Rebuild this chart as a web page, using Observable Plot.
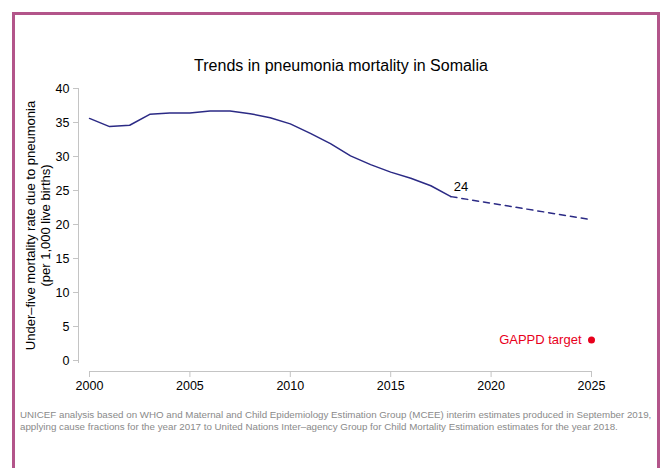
<!DOCTYPE html>
<html>
<head>
<meta charset="utf-8">
<script src="https://cdn.jsdelivr.net/npm/d3@7"></script>
<script src="https://cdn.jsdelivr.net/npm/@observablehq/plot@0.6"></script>
<style>
  html, body { margin: 0; padding: 0; background: #fff; }
  #wrap { position: relative; width: 664px; height: 468px; overflow: hidden; font-family: "Liberation Sans", Arial, Helvetica, sans-serif; }
  #frame { position: absolute; left: 12px; top: 12px; width: 642px; height: 480px; border: 3px solid #b3558a; box-sizing: content-box; }
  #title { position: absolute; left: 0; top: 57px; width: 682px; text-align: center; font-size: 16px; line-height: 18px; color: #000; }
  #chart { position: absolute; left: 0; top: 0; }
  #caption { position: absolute; left: 20px; top: 409px; font-size: 9.75px; line-height: 12px; color: #8a8a8a; white-space: nowrap; }
</style>
</head>
<body>
<div id="wrap">
  <div id="frame"></div>
  <div id="chart"></div>
  <div id="title">Trends in pneumonia mortality in Somalia</div>
  <div id="caption">UNICEF analysis based on WHO and Maternal and Child Epidemiology Estimation Group (MCEE) interim estimates produced in September 2019,<br>applying cause fractions for the year 2017 to United Nations Inter–agency Group for Child Mortality Estimation estimates for the year 2018.</div>
</div>
<script>
const years = [2000, 2001, 2002, 2003, 2004, 2005, 2006, 2007, 2008, 2009, 2010, 2011, 2012, 2013, 2014, 2015, 2016, 2017, 2018];
const rates = [35.6, 34.4, 34.6, 36.2, 36.4, 36.4, 36.7, 36.7, 36.3, 35.7, 34.8, 33.4, 31.9, 30.1, 28.8, 27.7, 26.8, 25.7, 24.1];
const projYears = [2018, 2025];
const projRates = [24.1, 20.7];
const targetYear = 2025;
const targetRate = 3;
const targetLabel = "GAPPD target";
const lastLabel = "24";
const xTicks = [2000, 2005, 2010, 2015, 2020, 2025];
const yTicks = [0, 5, 10, 15, 20, 25, 30, 35, 40];
const yLabel = "Under–five mortality rate due to pneumonia\n(per 1,000 live births)";

const observed = years.map((year, i) => ({year, value: rates[i]}));
const projection = projYears.map((year, i) => ({year, value: projRates[i]}));
const target = [{year: targetYear, value: targetRate}];

const lineColor = "#2b2a85";
const axisGray = "#c4c4c4";

const chart = Plot.plot({
  width: 664,
  height: 400,
  marginLeft: 78,
  marginTop: 88,
  marginBottom: 38,
  marginRight: 73,
  style: {fontFamily: '"Liberation Sans", Arial, Helvetica, sans-serif', background: "transparent", color: "#000"},
  x: {domain: [2000, 2025], range: [89, 591]},
  y: {domain: [0, 40], range: [360, 88]},
  marks: [
    Plot.frame({anchor: "left", stroke: axisGray}),
    Plot.axisY({ticks: yTicks, tickSize: 5, tickPadding: 4, fontSize: 12.5, stroke: axisGray, fill: "#000", label: null}),
    Plot.ruleY([0], {x1: 2000, x2: 2025, dy: 11, stroke: axisGray}),
    Plot.axisX({anchor: "bottom", ticks: xTicks, tickFormat: d => String(d), tickSize: 6, tickPadding: 4, dy: 9, fontSize: 12.5, stroke: axisGray, fill: "#000", label: null}),
    Plot.text([yLabel], {frameAnchor: "left", dx: -41, rotate: -90, fontSize: 13, lineHeight: 1.15, lineAnchor: "middle", textAnchor: "middle", fill: "#000"}),
    Plot.line(observed, {x: "year", y: "value", stroke: lineColor, strokeWidth: 1.5}),
    Plot.line(projection, {x: "year", y: "value", stroke: lineColor, strokeWidth: 1.5, strokeDasharray: "6,5"}),
    Plot.text([observed[observed.length - 1]], {x: "year", y: "value", text: () => lastLabel, dx: 10, dy: -10, fontSize: 13, fill: "#000"}),
    Plot.dot(target, {x: "year", y: "value", r: 3.5, fill: "#e8001c", stroke: "none"}),
    Plot.text(target, {x: "year", y: "value", text: () => targetLabel, textAnchor: "end", dx: -10, fontSize: 13, fill: "#e8001c"})
  ]
});
document.getElementById("chart").appendChild(chart);
</script>
</body>
</html>
